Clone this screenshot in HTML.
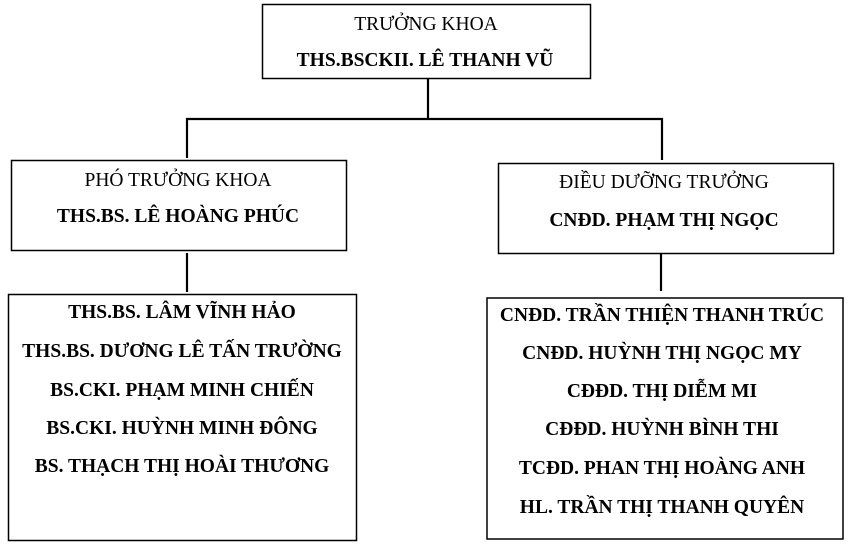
<!DOCTYPE html>
<html>
<head>
<meta charset="utf-8">
<style>
html,body{margin:0;padding:0;background:#fff;}
svg{display:block;}
text{font-family:"Liberation Serif","Times New Roman",serif;font-size:19.5px;fill:#000;}
.b{font-weight:bold;}
</style>
</head>
<body>
<svg width="850" height="544" viewBox="0 0 850 544" xmlns="http://www.w3.org/2000/svg">
  <g fill="none" stroke="#000" stroke-width="1.5">
    <rect x="262.5" y="4.5" width="328" height="74"/>
    <rect x="11.5" y="160.5" width="335" height="90"/>
    <rect x="498.5" y="163.5" width="335" height="90"/>
    <rect x="8.5" y="294.5" width="348" height="246"/>
    <rect x="487" y="298" width="356" height="241"/>
  </g>
  <g stroke="#000" stroke-width="2.2">
    <line x1="428" y1="79" x2="428" y2="119"/>
    <line x1="186" y1="119" x2="663" y2="119"/>
    <line x1="187" y1="118" x2="187" y2="158"/>
    <line x1="662" y1="118" x2="662" y2="160"/>
    <line x1="187" y1="253" x2="187" y2="292"/>
    <line x1="661" y1="254" x2="661" y2="291"/>
  </g>
  <g text-anchor="middle">
    <text x="426" y="30">TRƯỞNG KHOA</text>
    <text x="425" y="66" class="b">THS.BSCKII. LÊ THANH VŨ</text>

    <text x="178" y="186">PHÓ TRƯỞNG KHOA</text>
    <text x="178" y="222" class="b">THS.BS. LÊ HOÀNG PHÚC</text>

    <text x="664" y="188">ĐIỀU DƯỠNG TRƯỞNG</text>
    <text x="664" y="226" class="b">CNĐD. PHẠM THỊ NGỌC</text>

    <text x="182" y="318" class="b">THS.BS. LÂM VĨNH HẢO</text>
    <text x="182" y="357" class="b">THS.BS. DƯƠNG LÊ TẤN TRƯỜNG</text>
    <text x="182" y="396" class="b">BS.CKI. PHẠM MINH CHIẾN</text>
    <text x="182" y="434" class="b">BS.CKI. HUỲNH MINH ĐÔNG</text>
    <text x="182" y="472" class="b">BS. THẠCH THỊ HOÀI THƯƠNG</text>

    <text x="662" y="321" class="b">CNĐD. TRẦN THIỆN THANH TRÚC</text>
    <text x="662" y="359" class="b">CNĐD. HUỲNH THỊ NGỌC MY</text>
    <text x="662" y="397" class="b">CĐĐD. THỊ DIỄM MI</text>
    <text x="662" y="435" class="b">CĐĐD. HUỲNH BÌNH THI</text>
    <text x="662" y="474" class="b">TCĐD. PHAN THỊ HOÀNG ANH</text>
    <text x="662" y="513" class="b">HL. TRẦN THỊ THANH QUYÊN</text>
  </g>
</svg>
</body>
</html>
